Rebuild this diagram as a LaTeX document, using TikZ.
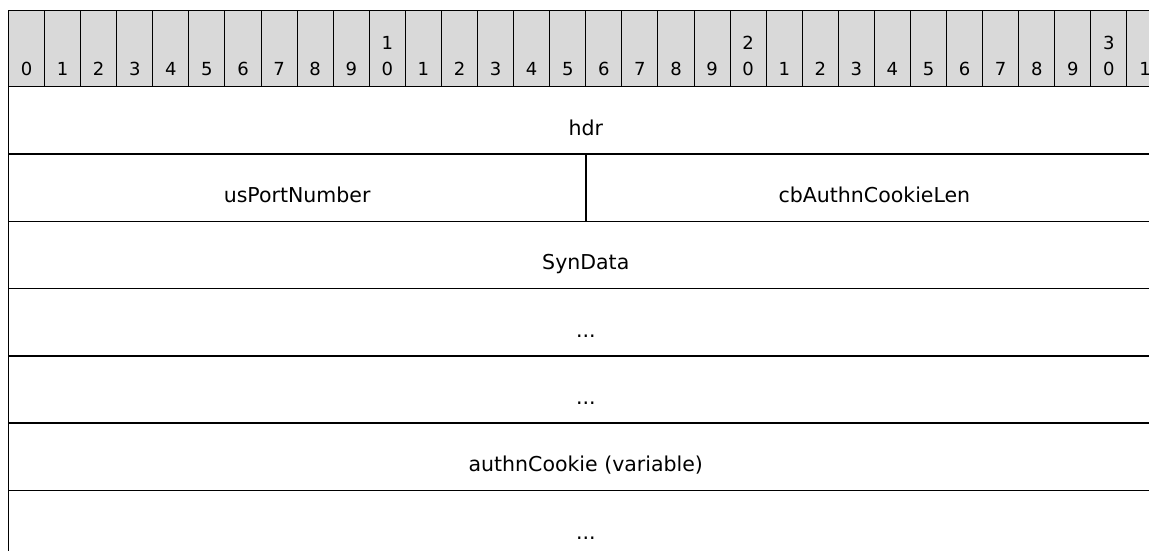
\documentclass[tikz,border=0pt]{standalone}
\usepackage{fontspec}
\setmainfont{DejaVu Sans}
\definecolor{hdrgray}{HTML}{D9D9D9}
\begin{document}
\begin{tikzpicture}[x=1pt,y=-1pt,
  hcell/.style={draw=black,fill=hdrgray,line width=1pt,inner sep=0pt,outer sep=0pt,
     minimum width=36.08pt,minimum height=75.7pt,anchor=north west},
  fcell/.style={draw=black,line width=1.5pt,inner sep=0pt,outer sep=0pt,
     minimum height=67.3pt,anchor=north west},
  full/.style={fcell,minimum width=1154.56pt},
  half/.style={fcell,minimum width=577.28pt},
  dig/.style={anchor=base,inner sep=0pt,font=\fontsize{18}{20}\selectfont},
  lbl/.style={anchor=base,inner sep=0pt,font=\fontsize{20.5}{22}\selectfont}]
\useasboundingbox (0,0) rectangle (1149,551);
\clip (0,0) rectangle (1149,551);
\fill[white] (0,0) rectangle (1149,551);
% header
\foreach \i in {0,...,31}{
  \node[hcell] (h\i) at ({8.5+\i*36.08},11) {};
}
\foreach \i in {0,...,9}{
  \node[dig] (d\i) at ({8.5+(\i+0.5)*36.08},75.5) {\i};
}
\foreach \i in {10,...,31}{
  \pgfmathtruncatemacro{\tens}{floor(\i/10)}
  \pgfmathtruncatemacro{\units}{mod(\i,10)}
  \ifnum\units=0
    \node[dig] (t\i) at ({8.5+(\i+0.5)*36.08},49.5) {\tens};
  \fi
  \node[dig] (d\i) at ({8.5+(\i+0.5)*36.08},75.5) {\units};
}
% fields
\node[full] (r1) at (8.5,86.7) {};
\node[half] (r2a) at (8.5,154) {};
\node[half] (r2b) at (585.78,154) {};
\node[full] (r3) at (8.5,221.3) {};
\node[full] (r4) at (8.5,288.6) {};
\node[full] (r5) at (8.5,355.9) {};
\node[full] (r6) at (8.5,423.2) {};
\node[full] (r7) at (8.5,490.5) {};
\node[lbl] (l1) at (585.78,135.5) {hdr};
\node[lbl] (l2a) at (297.14,202.5) {usPortNumber};
\node[lbl] (l2b) at (874.42,202.5) {cbAuthnCookieLen};
\node[lbl] (l3) at (585.78,269.8) {SynData};
\node[lbl] (l4) at (585.78,337.1) {...};
\node[lbl] (l5) at (585.78,404.4) {...};
\node[lbl] (l6) at (585.78,471.7) {authnCookie (variable)};
\node[lbl] (l7) at (585.78,539) {...};
\end{tikzpicture}
\end{document}
